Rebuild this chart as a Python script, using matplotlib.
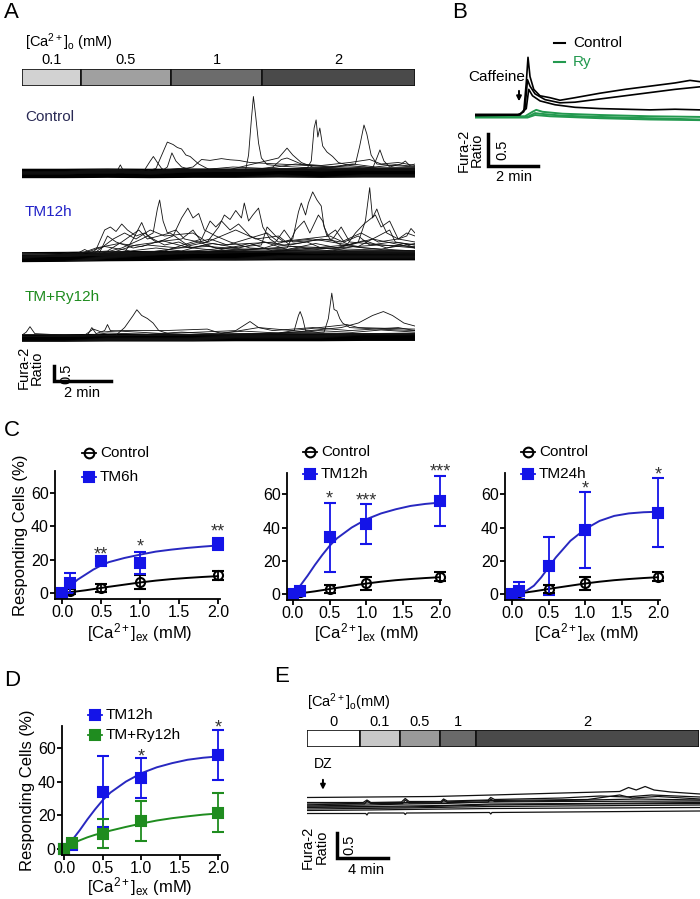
import matplotlib
matplotlib.use('Agg')
import matplotlib.pyplot as plt
from matplotlib.lines import Line2D
import numpy as np

plt.rcParams['font.family'] = ['Liberation Sans', 'DejaVu Sans']
plt.rcParams['mathtext.fontset'] = 'custom'
plt.rcParams['mathtext.rm'] = 'Liberation Sans'
plt.rcParams['mathtext.it'] = 'Liberation Sans:italic'
plt.rcParams['mathtext.bf'] = 'Liberation Sans:bold'

###############################################################################
# data

# panel A: perfusion protocol (min per step) and traces (min, Fura-2 ratio)
a_steps = ['0.1', '0.5', '1', '2']
a_step_len = [2.07, 3.16, 3.19, 5.37]
a_step_col = ['#d2d2d2', '#a0a0a0', '#6c6c6c', '#4a4a4a']

band_t = [0, 1.5, 3, 4.5, 6, 7.5, 9, 10.5, 12, 13.79]
ctrl_band_v = [0, 0.0, 0.01, 0.0, 0.01, 0.01, 0.02, 0.01, 0.02, 0.02]
ctrl_band_off = [-0.15, -0.12, -0.09, -0.06, -0.03, 0.0, 0.03, 0.06, 0.09, 0.12]

ctrl_a = [(0, 0.03), (3.0, 0.02), (5.0, 0.06), (7.0, 0.1), (7.85, 0.12), (7.95, 0.6), (8.05, 1.8),
          (8.12, 2.55), (8.2, 1.9), (8.3, 1.0), (8.4, 0.5), (8.6, 0.28), (9.2, 0.22), (10.5, 0.15),
          (12, 0.12), (13.79, 0.1)]
ctrl_b = [(0, 0.0), (4, 0.03), (8, 0.1), (10.0, 0.15), (10.15, 0.4), (10.25, 1.5), (10.32, 1.77),
          (10.38, 1.2), (10.45, 1.5), (10.55, 0.9), (10.7, 0.7), (10.9, 0.55), (11.1, 0.35),
          (11.5, 0.25), (12.5, 0.15), (13.79, 0.12)]
ctrl_c = [(0, 0.0), (6, 0.05), (9, 0.12), (11.0, 0.2), (11.7, 0.3), (11.85, 0.9), (12.0, 1.6),
          (12.1, 1.3), (12.25, 0.6), (12.45, 0.3), (13.0, 0.25), (13.79, 0.2)]
ctrl_d = [(0, 0.0), (4.2, 0.02), (4.7, 0.15), (4.95, 0.7), (5.1, 1.03), (5.3, 0.95), (5.45, 0.85),
          (5.6, 0.8), (5.75, 0.6), (5.9, 0.55), (6.2, 0.3), (6.6, 0.1), (7.5, 0.05), (9, 0.08),
          (11, 0.1), (13.79, 0.08)]
ctrl_e = [(0, 0.0), (3.8, 0.02), (4.3, 0.1), (4.5, 0.4), (4.61, 0.55), (4.75, 0.35), (4.9, 0.15),
          (5.15, 0.05), (6.0, 0.2), (6.3, 0.45), (6.6, 0.42), (7.0, 0.48), (7.3, 0.44), (7.6, 0.42),
          (8.0, 0.35), (9.0, 0.3), (10, 0.25), (11.5, 0.2), (13.79, 0.18)]
ctrl_f = [(0, 0.0), (4.8, 0.0), (5.1, 0.2), (5.26, 0.67), (5.4, 0.4), (5.6, 0.2), (6.0, 0.1),
          (7, 0.05), (9.0, 0.5), (9.3, 0.83), (9.5, 0.6), (9.8, 0.35), (10.2, 0.2), (12, 0.15),
          (13.79, 0.12)]
ctrl_g = [(0, 0.0), (3.3, 0.0), (3.45, 0.27), (3.6, 0.0), (7, 0.05), (10.5, 0.1), (12.3, 0.15),
          (12.45, 0.5), (12.56, 0.77), (12.7, 0.4), (12.9, 0.2), (13.3, 0.3), (13.45, 0.4),
          (13.6, 0.25), (13.79, 0.3)]
ctrl_h = [(0, 0), (8, 0.1), (8.8, 0.2), (9.1, 0.45), (9.3, 0.5), (9.8, 0.3), (10.5, 0.25),
          (11.5, 0.35), (12.2, 0.45), (12.6, 0.3), (13.2, 0.35), (13.79, 0.25)]
ctrl_i = [(0, 0.02), (4.5, 0.05), (5.5, 0.15), (6.2, 0.1), (7.4, 0.2), (8.6, 0.15), (9.6, 0.3),
          (10.8, 0.2), (11.6, 0.3), (12.4, 0.2), (13.1, 0.28), (13.79, 0.22)]
ctrl_j = [(0, 0.0), (5.0, 0.02), (5.8, 0.12), (6.5, 0.05), (8.3, 0.12), (9.0, 0.08), (10.0, 0.18),
          (11.0, 0.12), (12.0, 0.2), (12.8, 0.12), (13.79, 0.15)]

tm_band_v = [0, 0.01, 0.03, 0.04, 0.05, 0.05, 0.06, 0.06, 0.06, 0.06]
tm_band_off = [-0.15, -0.12, -0.09, -0.06, -0.03, 0.0, 0.03, 0.06, 0.1, 0.14]

tm_a = [(0, 0), (1.5, 0.02), (2.4, 0.1), (2.6, 0.25), (2.9, 0.9), (3.1, 1.0), (3.3, 0.85), (3.5, 1.1),
        (3.7, 0.9), (4.0, 0.7), (4.3, 0.8), (4.6, 0.6), (5.0, 0.4), (5.5, 0.5), (6.0, 0.3), (7, 0.2),
        (9, 0.15), (11, 0.1), (13.79, 0.1)]
tm_b = [(0, 0), (2.5, 0.05), (3.5, 0.3), (4.2, 0.6), (4.6, 0.8), (4.75, 1.6), (4.83, 1.9),
        (4.95, 1.2), (5.1, 0.8), (5.4, 0.9), (5.7, 0.6), (6.2, 0.5), (6.8, 0.3), (8, 0.2),
        (10, 0.15), (13.79, 0.1)]
tm_c = [(0, 0), (3, 0.1), (4.0, 0.4), (4.8, 0.5), (5.3, 0.7), (5.6, 1.3), (5.82, 1.63), (6.0, 1.3),
        (6.2, 1.45), (6.4, 0.9), (6.8, 0.7), (7.3, 0.5), (8, 0.3), (10, 0.2), (13.79, 0.15)]
tm_d = [(0, 0), (4, 0.1), (5.5, 0.3), (6.5, 0.5), (6.9, 1.0), (7.1, 1.4), (7.3, 1.25), (7.5, 1.55),
        (7.7, 1.3), (7.8, 1.8), (7.95, 1.2), (8.1, 1.4), (8.3, 1.63), (8.45, 1.0), (8.7, 0.6),
        (9.0, 0.4), (10, 0.3), (13.79, 0.2)]
tm_e = [(0, 0), (5, 0.2), (6.3, 0.6), (6.6, 1.2), (6.8, 1.0), (7.0, 1.2), (7.3, 0.9), (7.6, 1.1),
        (8.0, 0.7), (8.5, 0.5), (9.2, 0.4), (10, 0.5), (10.5, 0.3), (11.5, 0.2), (13.79, 0.2)]
tm_f = [(0, 0), (6, 0.15), (8.5, 0.3), (9.5, 0.6), (9.7, 1.5), (9.8, 1.8), (9.95, 1.4), (10.05, 1.8),
        (10.2, 2.17), (10.35, 1.9), (10.5, 1.7), (10.6, 1.0), (10.8, 0.6), (11.2, 0.4), (12, 0.3),
        (13.79, 0.2)]
tm_g = [(0, 0), (7, 0.2), (9.3, 0.3), (9.6, 0.9), (9.9, 1.2), (10.1, 0.8), (10.4, 1.4), (10.55, 1.2),
        (10.7, 0.7), (11.0, 0.9), (11.3, 0.5), (11.8, 0.7), (12.2, 0.4), (13, 0.5), (13.79, 0.4)]
tm_h = [(0, 0), (8, 0.15), (11, 0.3), (11.8, 0.5), (12.05, 1.2), (12.2, 2.31), (12.3, 1.3),
        (12.45, 1.6), (12.6, 1.2), (12.8, 0.8), (13.2, 0.6), (13.5, 0.8), (13.79, 0.7)]
tm_i = [(0, 0), (9, 0.2), (11.4, 0.4), (11.7, 0.8), (12.0, 1.1), (12.4, 1.4), (12.6, 1.0),
        (12.9, 1.2), (13.2, 0.6), (13.5, 0.7), (13.65, 0.95), (13.79, 0.8)]
tm_j = [(0, 0), (1.8, 0.05), (2.2, 0.25), (2.5, 0.1), (3.2, 0.6), (3.6, 0.8), (4.0, 0.6), (4.5, 0.9),
        (5.0, 0.7), (6.0, 0.8), (6.5, 0.5), (7.5, 0.9), (8.2, 0.6), (9.0, 0.7), (9.4, 0.4),
        (10.5, 0.6), (11.2, 0.5), (11.9, 0.8), (12.5, 0.5), (13.2, 0.6), (13.79, 0.5)]
tm_k = [(0, 0), (3, 0.2), (3.5, 0.5), (4.1, 0.9), (4.4, 0.6), (5.2, 0.8), (5.8, 0.4), (6.6, 0.6),
        (7.2, 0.4), (8.6, 0.8), (9.0, 0.5), (10.8, 0.7), (11.5, 0.4), (12.3, 0.6), (13.79, 0.3)]
tm_l = [(0, 0), (2.7, 0.1), (3.0, 0.7), (3.3, 0.5), (3.9, 0.3), (4.4, 0.4), (5.5, 0.3), (6.5, 0.35),
        (8, 0.25), (9.5, 0.35), (11, 0.3), (12.5, 0.4), (13.79, 0.35)]
tm_m = [(0, 0), (6, 0.2), (8.4, 0.4), (8.6, 1.0), (8.9, 0.7), (9.2, 0.5), (10.2, 0.6), (11.8, 0.35),
        (12.9, 0.9), (13.1, 0.5), (13.79, 0.4)]
tm_n = [(0, 0), (2.0, 0.1), (2.6, 0.3), (3.4, 0.45), (4.2, 0.35), (4.9, 0.55), (5.9, 0.3),
        (6.7, 0.45), (7.6, 0.3), (8.5, 0.5), (9.3, 0.25), (10.3, 0.45), (11.1, 0.3), (12.0, 0.55),
        (12.8, 0.3), (13.79, 0.45)]
tm_o = [(0, 0), (1.2, 0.05), (1.6, 0.15), (2.0, 0.08), (2.9, 0.35), (3.8, 0.2), (4.7, 0.3),
        (5.6, 0.2), (6.4, 0.4), (7.0, 0.25), (8.0, 0.45), (8.8, 0.2), (9.8, 0.3), (10.9, 0.2),
        (11.6, 0.35), (12.6, 0.25), (13.4, 0.45), (13.79, 0.3)]
tm_p = [(0, 0), (3.6, 0.15), (3.9, 0.6), (4.2, 1.15), (4.4, 0.7), (4.7, 0.5), (5.6, 0.6), (6.0, 0.9),
        (6.3, 0.5), (7.0, 0.4), (8.9, 0.5), (9.2, 0.9), (9.5, 0.5), (10.9, 0.6), (11.2, 1.0),
        (11.5, 0.5), (13.79, 0.3)]

ry_band_v = [0, 0, 0.01, 0.01, 0.01, 0.02, 0.02, 0.02, 0.03, 0.03]
ry_band_off = [-0.15, -0.12, -0.09, -0.06, -0.03, 0.0, 0.03, 0.06]

ry_a = [(0, 0), (3.3, 0.05), (3.6, 0.3), (3.9, 0.7), (4.03, 0.89), (4.2, 0.7), (4.4, 0.6),
        (4.6, 0.45), (4.8, 0.2), (5.2, 0.08), (7, 0.05), (9, 0.1), (13.79, 0.1)]
ry_b = [(0, 0), (6, 0.05), (9.0, 0.12), (9.55, 0.2), (9.7, 0.7), (9.76, 0.83), (9.85, 0.6),
        (9.95, 0.2), (10.5, 0.12), (12, 0.1), (13.79, 0.12)]
ry_c = [(0, 0), (8, 0.1), (10.6, 0.15), (10.75, 0.6), (10.87, 1.44), (10.95, 0.9), (11.05, 0.85),
        (11.15, 0.6), (11.25, 0.45), (11.5, 0.3), (12.5, 0.25), (13.79, 0.2)]
ry_d = [(0, 0), (9, 0.1), (11.2, 0.3), (11.8, 0.45), (12.3, 0.7), (12.68, 0.83), (13.0, 0.7),
        (13.4, 0.45), (13.79, 0.35)]
ry_e = [(0, 0.05), (0.15, 0.15), (0.28, 0.33), (0.45, 0.1), (1.5, 0.05), (2.3, 0.05), (2.45, 0.3),
        (2.6, 0.1), (2.9, 0.2), (3.0, 0.4), (3.1, 0.2), (5, 0.1), (7.5, 0.2), (8.0, 0.5), (8.3, 0.3),
        (9.5, 0.2), (11.4, 0.4), (11.8, 0.3), (13.79, 0.25)]
ry_f = [(0, 0), (2.2, 0.05), (2.5, 0.25), (2.8, 0.15), (3.5, 0.2), (5, 0.2), (6.5, 0.25), (7, 0.1),
        (8.3, 0.3), (8.8, 0.2), (10.2, 0.3), (11.5, 0.2), (13.2, 0.3), (13.79, 0.2)]
ry_g = [(0, 0), (2.2, 0.02), (3.0, 0.12), (4.4, 0.08), (5.6, 0.15), (6.6, 0.1), (7.8, 0.18),
        (9.0, 0.12), (10.4, 0.2), (11.6, 0.14), (12.6, 0.22), (13.79, 0.15)]

# panel B: caffeine responses
b_ctrl1 = [(0, 0.0), (1.7, 0.0), (1.95, 0.05), (2.05, 0.5), (2.12, 0.9), (2.2, 0.6), (2.35, 0.4),
           (2.6, 0.3), (3.0, 0.27), (3.4, 0.23), (4.0, 0.27), (5, 0.34), (6, 0.4), (7, 0.45),
           (8, 0.5), (8.6, 0.54), (9, 0.52)]
b_ctrl2 = [(0, -0.01), (1.8, 0.0), (2.0, 0.1), (2.1, 0.55), (2.2, 0.45), (2.4, 0.33), (2.8, 0.24),
           (3.4, 0.19), (4, 0.2), (5, 0.25), (6, 0.3), (7, 0.35), (8, 0.4), (9, 0.44)]
b_ctrl3 = [(0, 0.01), (1.8, 0.01), (2.05, 0.1), (2.15, 0.4), (2.3, 0.3), (2.6, 0.22), (3.2, 0.16),
           (4, 0.12), (5, 0.1), (6, 0.09), (7, 0.08), (8, 0.09), (9, 0.08)]
b_ry1 = [(0, -0.02), (2.0, -0.02), (2.3, 0.05), (2.45, 0.08), (2.7, 0.05), (3.5, 0.02), (5, 0.0),
         (7, -0.02), (9, -0.03)]
b_ry2 = [(0, -0.03), (2.1, -0.03), (2.4, 0.03), (2.6, 0.02), (3.5, -0.01), (5, -0.03), (7, -0.05),
         (9, -0.07)]
b_ry3 = [(0, -0.04), (2.1, -0.04), (2.4, 0.0), (3, -0.02), (5, -0.05), (7, -0.07), (9, -0.08)]

# panels C and D: responding cells (%) vs [Ca2+]ex (mM)
conc = [0, 0.1, 0.5, 1.0, 2.0]
ctrl_mean = [0, 1, 3, 6.5, 10.5]
ctrl_err = [0, 1.5, 2.5, 4, 2.5]
tm6_mean = [0, 6, 19, 18, 29.5]
tm6_err = [0, 6, 1.5, 6.5, 3.5]
tm12_mean = [0, 2, 34, 42, 56]
tm12_err = [0, 1.5, 21, 12, 15]
tm24_mean = [0, 2, 17, 38.5, 49]
tm24_err = [0, 5, 17.5, 23, 21]
ry12_mean = [0, 3.5, 9, 16.5, 21.5]
ry12_err = [0, 1.5, 8.5, 12, 11.5]

fit_x = [0, 0.1, 0.2, 0.3, 0.4, 0.5, 0.6, 0.8, 1.0, 1.2, 1.4, 1.6, 1.8, 2.0]
ctrl_fit = [0, 0.5, 1.0, 1.6, 2.3, 3.0, 3.7, 5.0, 6.3, 7.4, 8.3, 9.0, 9.6, 10.1]
tm6_fit = [0, 4, 8, 11, 14, 16.5, 18.5, 21, 23, 24.8, 26, 27, 27.8, 28.5]
tm12_fit = [0, 5, 11, 17.5, 23.5, 29, 33.5, 40, 45, 48.5, 51, 53, 54.2, 55]
tm24_fit = [0, 0.5, 2, 5, 10, 16, 22, 32, 39, 44, 47, 48.5, 49.2, 49.5]
ry12_fit = [0, 3, 5, 6.8, 8.3, 9.5, 10.8, 13, 15, 16.8, 18.2, 19.3, 20.3, 21]

tm6_star_x, tm6_star_y, tm6_stars = [0.5, 1.0, 2.0], [25, 30, 39], ['**', '*', '**']
tm12_star_x, tm12_star_y, tm12_stars = [0.5, 1.0, 2.0], [59.5, 58.5, 76], ['*', '***', '***']
tm24_star_x, tm24_star_y, tm24_stars = [1.0, 2.0], [65.6, 74], ['*', '*']
ry12_star_x, ry12_star_y, ry12_stars = [1.0, 2.0], [57.4, 74.3], ['*', '*']

# panel E: diazoxide protocol and traces
e_steps = ['0', '0.1', '0.5', '1', '2']
e_step_len = [4.16, 3.14, 3.14, 2.82, 17.5]
e_step_col = ['#ffffff', '#c8c8c8', '#9a9a9a', '#6a6a6a', '#4a4a4a']

e1 = [(0, 0.15), (10, 0.17), (14.5, 0.2), (20, 0.24), (24.5, 0.27), (25.2, 0.35), (25.8, 0.3),
      (26.5, 0.37), (27.2, 0.3), (28.5, 0.26), (30.8, 0.22)]
e2 = [(0, 0.05), (4.4, 0.05), (4.7, 0.1), (5.0, 0.05), (7.4, 0.06), (7.7, 0.13), (8.0, 0.07),
      (10.5, 0.07), (10.7, 0.12), (11.0, 0.08), (14.2, 0.1), (14.4, 0.15), (14.7, 0.11), (20, 0.14),
      (23, 0.18), (25, 0.16), (27, 0.2), (30.8, 0.16)]
e3 = [(0, 0.02), (4.5, 0.02), (4.7, 0.08), (5, 0.03), (7.5, 0.03), (7.7, 0.1), (8, 0.04),
      (10.5, 0.04), (10.7, 0.1), (11, 0.05), (14.2, 0.06), (14.4, 0.12), (14.7, 0.07), (22, 0.1),
      (26, 0.12), (30.8, 0.1)]
e4 = [(0, -0.02), (4.7, 0.0), (7.7, 0.02), (10.7, 0.03), (14.4, 0.06), (20, 0.07), (30.8, 0.08)]
e5 = [(0, -0.05), (4.7, -0.03), (7.7, -0.02), (10.7, -0.01), (14.4, 0.02), (22, 0.03), (30.8, 0.05)]
e6 = [(0, -0.08), (7.7, -0.06), (14.4, -0.03), (30.8, 0.0)]
e7 = [(0, -0.11), (4.7, -0.1), (7.7, -0.09), (14.4, -0.07), (30.8, -0.05)]
e8 = [(0, -0.17), (4.6, -0.17), (4.7, -0.2), (4.8, -0.16), (7.6, -0.16), (7.7, -0.19), (7.8, -0.16),
      (14.3, -0.15), (14.4, -0.18), (14.5, -0.15), (30.8, -0.12)]
e9 = [(0, 0.0), (4.7, 0.04), (7.7, 0.05), (10.7, 0.06), (14.4, 0.09), (22, 0.11), (24.5, 0.2),
      (25.5, 0.14), (27.5, 0.17), (30.8, 0.12)]
e10 = [(0, -0.04), (7.7, -0.04), (14.4, 0.0), (22, 0.02), (30.8, 0.03)]

###############################################################################
# layout helpers (pixel boxes on a 700x899 canvas)

W, H = 700, 899
fig = plt.figure(figsize=(7, 8.99), dpi=100)

def box(x0, y0, x1, y1):
    return [x0 / W, 1 - y1 / H, (x1 - x0) / W, (y1 - y0) / H]

def ftext(x, y, s, **kw):
    fig.text(x / W, 1 - y / H, s, **kw)

def trace(ax, pts, color='#111111', lw=0.6):
    a = np.array(pts)
    ax.plot(a[:, 0], a[:, 1], color=color, lw=lw)

def band(ax, v, offsets, lw=1.0):
    for off in offsets:
        ax.plot(band_t, np.array(v) + off, color='k', lw=lw)

def blank(ax):
    ax.axis('off')

def protocol_bar(ax, lens, cols, labels, label_y):
    left = 0
    for n, c, lab in zip(lens, cols, labels):
        ax.barh(0.5, n, left=left, height=1, color=c, edgecolor='#111111', lw=1.2)
        ax.text(left + n / 2, label_y, lab, ha='center', va='center', fontsize=10.5)
        left += n
    ax.set_xlim(0, left)
    ax.set_ylim(0, 1)
    blank(ax)

def scale_bar(ax, x0, y0, dx, dy, lw=2.5):
    ax.plot([x0, x0, x0 + dx], [y0 + dy, y0, y0], color='k', lw=lw,
            solid_joinstyle='miter', clip_on=False)

def down_arrow(ax, x, y_tip, y_tail):
    ax.annotate('', xy=(x, y_tip), xytext=(x, y_tail), annotation_clip=False,
                arrowprops=dict(arrowstyle='-|>', color='k', lw=1.4, mutation_scale=7))

LET = dict(fontsize=16, va='center', ha='left')

###############################################################################
# Panel A

ftext(4, 13, 'A', **LET)
ftext(25, 42, r'[Ca$^{\rm 2+}$]$_{\rm o}$ (mM)', fontsize=10.5, va='center')
ax = fig.add_axes(box(22, 69, 415, 86))
protocol_bar(ax, a_step_len, a_step_col, a_steps, 1.53)

ftext(25, 117, 'Control', fontsize=11, va='center', color='#2a2a55')
ax = fig.add_axes(box(22, 92, 415, 185))
band(ax, ctrl_band_v, ctrl_band_off)
for tr in [ctrl_a, ctrl_b, ctrl_c, ctrl_d, ctrl_e, ctrl_f, ctrl_g, ctrl_h, ctrl_i, ctrl_j]:
    trace(ax, tr)
ax.set_xlim(0, 13.79)
ax.set_ylim(-0.4, 2.7)
blank(ax)

ftext(25, 212, 'TM12h', fontsize=11, va='center', color='#2222c8')
ax = fig.add_axes(box(22, 182, 415, 268))
band(ax, tm_band_v, tm_band_off)
for tr in [tm_a, tm_b, tm_c, tm_d, tm_e, tm_f, tm_g, tm_h, tm_i, tm_j, tm_k, tm_l, tm_m,
           tm_n, tm_o, tm_p]:
    trace(ax, tr)
ax.set_xlim(0, 13.79)
ax.set_ylim(-0.367, 2.5)
blank(ax)

ftext(25, 297, 'TM+Ry12h', fontsize=11, va='center', color='#1e8c1e')
ax = fig.add_axes(box(22, 288, 415, 345))
band(ax, ry_band_v, ry_band_off)
for tr in [ry_a, ry_b, ry_c, ry_d, ry_e, ry_f, ry_g]:
    trace(ax, tr)
ax.set_xlim(0, 13.79)
ax.set_ylim(-0.277, 1.61)
scale_bar(ax, 1.12, -1.477, 2.0, 0.5)
ax.text(1.56, -1.23, '0.5', rotation=90, ha='center', va='center', fontsize=10.5)
ax.text(2.12, -1.86, '2 min', ha='center', va='center', fontsize=10.5)
ax.text(0.28, -1.03, 'Fura-2\nRatio', rotation=90, ha='center', va='center', fontsize=10.5,
        linespacing=0.95)
blank(ax)

###############################################################################
# Panel B

ftext(452, 13, 'B', **LET)
ax = fig.add_axes(box(475, 40, 700, 130))
for tr in [b_ry1, b_ry2, b_ry3]:
    trace(ax, tr, color='#23994f', lw=1.4)
for tr in [b_ctrl1, b_ctrl2, b_ctrl3]:
    trace(ax, tr, color='k', lw=1.2)
down_arrow(ax, 1.76, 0.17, 0.42)
ax.text(0.86, 0.6, 'Caffeine', ha='center', va='center', fontsize=11)
scale_bar(ax, 0.52, -0.80, 2.0, 0.5)
ax.text(1.1, -0.54, '0.5', rotation=90, ha='center', va='center', fontsize=10.5)
ax.text(1.58, -0.97, '2 min', ha='center', va='center', fontsize=10.5)
ax.text(-0.18, -0.55, 'Fura-2\nRatio', rotation=90, ha='center', va='center', fontsize=10.5,
        linespacing=0.95)
ax.set_xlim(0, 9)
ax.set_ylim(-0.234, 1.17)
blank(ax)

for y, c, lab in [(43, 'k', 'Control'), (62, '#23994f', 'Ry')]:
    fig.add_artist(Line2D([554 / W, 565 / W], [1 - y / H] * 2, color=c, lw=1.5))
    ftext(573, y, lab, fontsize=11, va='center', color=c)

###############################################################################
# Panels C and D

BLUE = '#1414e8'
BLUE_LINE = '#2828c0'
GREEN = '#1f8c1f'

def dose_axes(rect, xlim):
    ax = fig.add_axes(box(*rect))
    ax.set_xlim(*xlim)
    ax.set_ylim(-3.5, 73)
    ax.spines['top'].set_visible(False)
    ax.spines['right'].set_visible(False)
    for s in ['left', 'bottom']:
        ax.spines[s].set_linewidth(1.3)
    ax.set_xticks([0, 0.5, 1.0, 1.5, 2.0])
    ax.set_xticklabels(['0.0', '0.5', '1.0', '1.5', '2.0'])
    ax.set_yticks([0, 20, 40, 60])
    ax.tick_params(direction='out', length=3.5, width=1.3, labelsize=11.5, pad=1)
    return ax

def series(ax, mean, err, fit, color, line_color, marker, mfc, ms):
    ax.plot(fit_x, fit, color=line_color, lw=1.4, clip_on=False)
    cont = ax.errorbar(conc, mean, yerr=err, fmt=marker, color=color, mfc=mfc, mec=color,
                       ms=ms, mew=1.5, capsize=4, elinewidth=1.3, capthick=1.3)
    for art in cont.get_children():
        art.set_clip_on(False)

def stars(ax, xs, ys, labels):
    for x, y, s in zip(xs, ys, labels):
        ax.text(x, y - 2.5, s, ha='center', va='center', fontsize=13, color='#333333')

def legend_item(x, y, color, marker, mfc, label):
    fig.add_artist(Line2D([(x - 7) / W, (x + 7) / W], [1 - y / H] * 2, color=color, lw=1.3))
    fig.add_artist(Line2D([x / W], [1 - y / H], marker=marker, ms=7, mfc=mfc, mec=color,
                          mew=1.5, ls='none'))
    ftext(x + 11, y, label, fontsize=11, va='center')

XLAB = r'[Ca$^{\rm 2+}$]$_{\rm ex}$ (mM)'

ftext(4, 430, 'C', **LET)

ax = dose_axes((55, 471.3, 219.6, 598.8), (-0.09, 2.02))
series(ax, ctrl_mean, ctrl_err, ctrl_fit, 'k', 'k', 'o', 'none', 6.5)
series(ax, tm6_mean, tm6_err, tm6_fit, BLUE, BLUE_LINE, 's', BLUE, 7)
stars(ax, tm6_star_x, tm6_star_y, tm6_stars)
ax.set_ylabel('Responding Cells (%)', fontsize=12, labelpad=2)
ftext(140, 638, XLAB, fontsize=12, ha='center', va='baseline')
legend_item(89, 453, 'k', 'o', 'none', 'Control')
legend_item(89, 477, BLUE, 's', BLUE, 'TM6h')

ax = dose_axes((287, 472.7, 441.4, 599.8), (-0.08, 2.02))
series(ax, ctrl_mean, ctrl_err, ctrl_fit, 'k', 'k', 'o', 'none', 6.5)
series(ax, tm12_mean, tm12_err, tm12_fit, BLUE, BLUE_LINE, 's', BLUE, 7)
stars(ax, tm12_star_x, tm12_star_y, tm12_stars)
ftext(367, 638, XLAB, fontsize=12, ha='center', va='baseline')
legend_item(310, 452, 'k', 'o', 'none', 'Control')
legend_item(310, 474, BLUE, 's', BLUE, 'TM12h')

ax = dose_axes((505, 472.7, 659.5, 599.8), (-0.096, 2.02))
series(ax, ctrl_mean, ctrl_err, ctrl_fit, 'k', 'k', 'o', 'none', 6.5)
series(ax, tm24_mean, tm24_err, tm24_fit, BLUE, BLUE_LINE, 's', BLUE, 7)
stars(ax, tm24_star_x, tm24_star_y, tm24_stars)
ftext(587, 638, XLAB, fontsize=12, ha='center', va='baseline')
legend_item(528, 452, 'k', 'o', 'none', 'Control')
legend_item(528, 474, BLUE, 's', BLUE, 'TM24h')

ftext(4, 681, 'D', **LET)
ax = dose_axes((62, 726.2, 219.9, 854.6), (-0.03, 2.02))
series(ax, tm12_mean, tm12_err, tm12_fit, BLUE, BLUE_LINE, 's', BLUE, 7)
series(ax, ry12_mean, ry12_err, ry12_fit, GREEN, GREEN, 's', GREEN, 7)
stars(ax, ry12_star_x, ry12_star_y, ry12_stars)
ax.set_ylabel('Responding Cells (%)', fontsize=12, labelpad=2)
ftext(140, 892, XLAB, fontsize=12, ha='center', va='baseline')
legend_item(95, 715, BLUE, 's', BLUE, 'TM12h')
legend_item(95, 735, GREEN, 's', GREEN, 'TM+Ry12h')

###############################################################################
# Panel E

ftext(274, 677, 'E', **LET)
ftext(307, 702, r'[Ca$^{\rm 2+}$]$_{\rm o}$(mM)', fontsize=10.5, va='center')
ax = fig.add_axes(box(307, 730, 699, 747))
protocol_bar(ax, e_step_len, e_step_col, e_steps, 1.47)

ax = fig.add_axes(box(307, 775, 700, 820))
for tr in [e1, e2, e3, e4, e5, e6, e7, e8, e9, e10]:
    trace(ax, tr, lw=0.9)
down_arrow(ax, 1.25, 0.25, 0.56)
ax.text(1.25, 0.82, 'DZ', ha='center', va='center', fontsize=10)
scale_bar(ax, 2.35, -1.06, 4.0, 0.5)
ax.text(3.3, -0.8, '0.5', rotation=90, ha='center', va='center', fontsize=10.5)
ax.text(4.6, -1.31, '4 min', ha='center', va='center', fontsize=10.5)
ax.text(0.6, -0.84, 'Fura-2\nRatio', rotation=90, ha='center', va='center', fontsize=10.5,
        linespacing=0.95)
ax.set_xlim(0, 30.8)
ax.set_ylim(-0.3, 0.6)
blank(ax)

plt.savefig('out.png', dpi=100)
